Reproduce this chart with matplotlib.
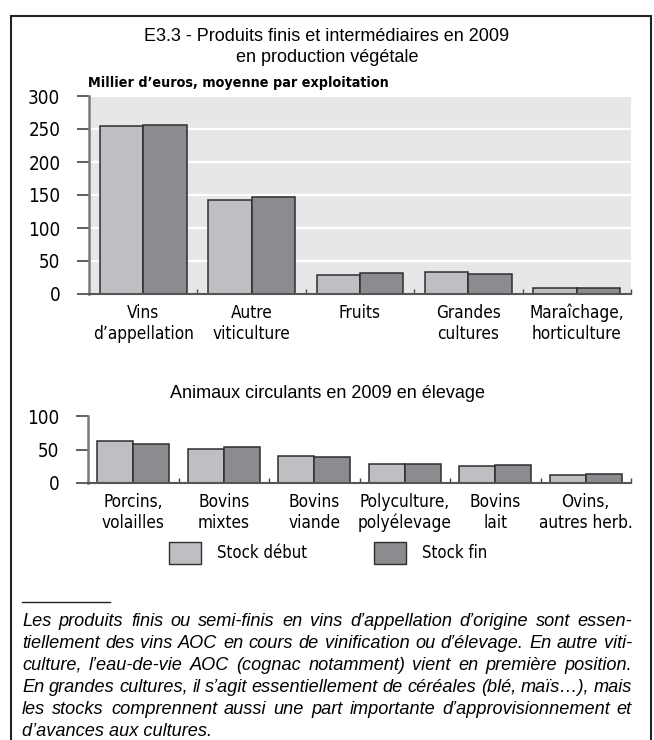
import numpy as np
import matplotlib.pyplot as plt
import matplotlib.font_manager as fm
from matplotlib.patches import Patch, Rectangle
from matplotlib.lines import Line2D

# Données
veg_categories = ['Vins\nd’appellation', 'Autre\nviticulture', 'Fruits',
                  'Grandes\ncultures', 'Maraîchage,\nhorticulture']
veg_debut = [254, 143, 29, 33, 9]
veg_fin = [256, 147, 32, 31, 9]

ani_categories = ['Porcins,\nvolailles', 'Bovins\nmixtes', 'Bovins\nviande',
                  'Polyculture,\npolyélevage', 'Bovins\nlait', 'Ovins,\nautres herb.']
ani_debut = [62, 51, 40, 28, 26, 12]
ani_fin = [58, 53, 38.5, 28, 27.5, 13]

series_labels = ['Stock début', 'Stock fin']

note_lines = [
    'Les produits finis ou semi-finis en vins d’appellation d’origine sont essen-',
    'tiellement des vins AOC en cours de vinification ou d’élevage. En autre viti-',
    'culture, l’eau-de-vie AOC (cognac notamment) vient en première position.',
    'En grandes cultures, il s’agit essentiellement de céréales (blé, maïs…), mais',
    'les stocks comprennent aussi une part importante d’approvisionnement et',
    'd’avances aux cultures.',
]

light = '#bebfc3'
dark = '#8b8c90'
edge = '#2e2e2e'
plain = ['Liberation Sans', 'DejaVu Sans']

# police étroite pour les étiquettes (condensée si disponible)
fonts = fm.fontManager.ttflist
if any(f.name == 'DejaVu Sans' and f.stretch == 'condensed' for f in fonts):
    plt.rcParams['font.family'] = ['DejaVu Sans']
    plt.rcParams['font.stretch'] = 'condensed'
    k = 1.0
elif any(f.name == 'Liberation Sans Narrow' for f in fonts):
    plt.rcParams['font.family'] = ['Liberation Sans Narrow', 'DejaVu Sans']
    k = 1.05
else:
    plt.rcParams['font.family'] = ['Roboto', 'DejaVu Sans']
    k = 0.92

W, H = 654, 740
fig = plt.figure(figsize=(W / 100, H / 100), dpi=100)


def fx(x):
    return x / W


def fy(y):
    return 1 - y / H


def draw_bars(ax, cats, debut, fin, ymax, step):
    x = np.arange(len(cats))
    ax.bar(x - 0.2, debut, 0.4, color=light, edgecolor=edge, linewidth=1.1, zorder=3)
    ax.bar(x + 0.2, fin, 0.4, color=dark, edgecolor=edge, linewidth=1.1, zorder=3)
    ax.set_xlim(-0.5, len(cats) - 0.5)
    ax.set_ylim(0, ymax)
    ax.set_yticks(np.arange(0, ymax + 1, step))
    ax.set_xticks(x + 0.5)
    ax.set_xticklabels([])
    ax.set_xticks(x, cats, minor=True)
    ax.tick_params(axis='x', which='major', direction='in', length=3.5, width=1, color='#444')
    ax.tick_params(axis='x', which='minor', length=0, pad=7, labelsize=12.3 * k)
    ax.tick_params(axis='y', length=8.6, width=1.2, color='#444', pad=12, labelsize=13.5 * k)
    for s in ['top', 'right']:
        ax.spines[s].set_visible(False)
    ax.spines['left'].set_color('#7a7a7a')
    ax.spines['left'].set_linewidth(1.8)
    ax.spines['bottom'].set_color('#555555')
    ax.spines['bottom'].set_linewidth(1.5)
    ax.spines['bottom'].set_zorder(4)


# Graphique du haut : production végétale
ax1 = fig.add_axes([fx(89), fy(294), (631 - 89) / W, (294 - 96) / H])
ax1.set_facecolor('#e6e7e9')
draw_bars(ax1, veg_categories, veg_debut, veg_fin, 300, 50)
ax1.yaxis.grid(True, color='white', linewidth=1.6, zorder=1)
ax1.set_axisbelow(True)

# Graphique du bas : élevage
ax2 = fig.add_axes([fx(88), fy(483), (631 - 88) / W, (483 - 416) / H])
draw_bars(ax2, ani_categories, ani_debut, ani_fin, 100, 50)

# Titres
fig.text(fx(327), fy(47), 'E3.3 - Produits finis et intermédiaires en 2009\nen production végétale',
         ha='center', va='center', fontsize=13, family=plain, stretch='normal', linespacing=1.25)
fig.text(fx(88), fy(83), 'Millier d’euros, moyenne par exploitation',
         ha='left', va='center', fontsize=10.3 * k, fontweight='bold')
fig.text(fx(327), fy(393), 'Animaux circulants en 2009 en élevage',
         ha='center', va='center', fontsize=13, family=plain, stretch='normal')

# Légende
handles = [Patch(facecolor=light, edgecolor=edge, linewidth=1),
           Patch(facecolor=dark, edgecolor=edge, linewidth=1)]
fig.legend(handles, series_labels, loc='upper left', bbox_to_anchor=(fx(169), fy(542)),
           ncol=2, frameon=False, borderpad=0, borderaxespad=0, fontsize=12 * k,
           handlelength=1.9, handleheight=1.65, handletextpad=1.0, columnspacing=4.0)

# Note de bas de page (texte justifié)
fig.add_artist(Line2D([fx(22), fx(110)], [fy(602), fy(602)], color='#222', linewidth=1))
renderer = fig.canvas.get_renderer()
note_style = dict(ha='left', va='center', fontsize=13.1, family=plain,
                  stretch='normal', style='italic')
for i, line in enumerate(note_lines):
    y = fy(621 + i * 22)
    if i == len(note_lines) - 1:
        fig.text(fx(22), y, line, **note_style)
        continue
    words = line.split(' ')
    texts = [fig.text(0, y, w, **note_style) for w in words]
    widths = [t.get_window_extent(renderer).width for t in texts]
    gap = (632 - 22 - sum(widths)) / (len(words) - 1)
    xpos = 22
    for t, w in zip(texts, widths):
        t.set_x(fx(xpos))
        xpos += w + gap

# Cadre
fig.add_artist(Rectangle((fx(11), -0.1), (651 - 11) / W, 1 - 16 / H + 0.1,
                         transform=fig.transFigure, fill=False, edgecolor='#222',
                         linewidth=1.5, clip_on=False))

plt.savefig('out.png', dpi=100)
